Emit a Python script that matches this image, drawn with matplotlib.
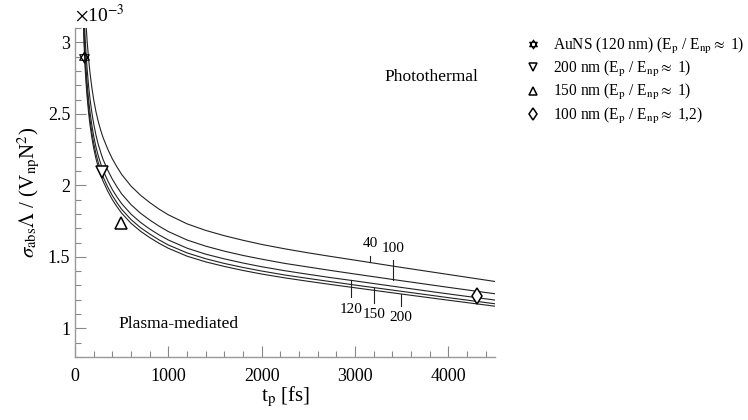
import matplotlib
matplotlib.use("Agg")
import matplotlib.pyplot as plt
from matplotlib.path import Path
import numpy as np

plt.rcParams['font.family'] = ['Liberation Serif', 'DejaVu Serif']
plt.rcParams['mathtext.fontset'] = 'stix'

# curves (values in units of 1e-3), labelled by particle size
tp = [90, 95, 100, 105, 110, 120, 130, 145, 160, 180, 200, 225, 250, 275, 300, 350, 400, 450, 500,
      600, 700, 800, 900, 1000, 1200, 1400, 1600, 1800, 2000, 2250, 2500, 2750, 3000, 3500, 4000, 4500]
c200 = [3.14, 3.03, 2.94, 2.865, 2.80, 2.70, 2.615, 2.51, 2.425, 2.335, 2.26, 2.185, 2.125, 2.075, 2.03,
        1.96, 1.90, 1.85, 1.805, 1.735, 1.68, 1.635, 1.595, 1.56, 1.505, 1.465, 1.433, 1.405, 1.38,
        1.353, 1.329, 1.306, 1.284, 1.240, 1.197, 1.155]
c150 = [3.187, 3.075, 2.984, 2.908, 2.842, 2.741, 2.654, 2.548, 2.461, 2.370, 2.294, 2.218, 2.157, 2.106,
        2.060, 1.989, 1.929, 1.878, 1.832, 1.761, 1.705, 1.660, 1.619, 1.583, 1.528, 1.487, 1.454, 1.426,
        1.401, 1.373, 1.349, 1.326, 1.303, 1.259, 1.215, 1.172]
c120 = [3.256, 3.142, 3.049, 2.971, 2.904, 2.800, 2.712, 2.603, 2.515, 2.421, 2.344, 2.266, 2.204, 2.152,
        2.105, 2.033, 1.970, 1.918, 1.872, 1.799, 1.742, 1.695, 1.654, 1.618, 1.561, 1.519, 1.486, 1.457,
        1.431, 1.403, 1.378, 1.354, 1.332, 1.286, 1.241, 1.198]
c100 = [3.376, 3.257, 3.161, 3.080, 3.010, 2.903, 2.811, 2.698, 2.607, 2.510, 2.430, 2.349, 2.284, 2.231,
        2.182, 2.107, 2.043, 1.989, 1.940, 1.865, 1.806, 1.758, 1.715, 1.677, 1.618, 1.575, 1.540, 1.510,
        1.484, 1.454, 1.429, 1.404, 1.380, 1.333, 1.287, 1.242]
c40 = [3.611, 3.485, 3.38, 3.295, 3.22, 3.105, 3.007, 2.887, 2.789, 2.685, 2.599, 2.513, 2.444, 2.386,
       2.335, 2.254, 2.185, 2.128, 2.076, 1.995, 1.932, 1.880, 1.834, 1.794, 1.731, 1.685, 1.648, 1.616,
       1.587, 1.556, 1.528, 1.502, 1.477, 1.426, 1.377, 1.328]

# measured points
star_t, star_v = [100], [2.9]
dn_t, dn_v = [290], [2.09]
up_t, up_v = [490], [1.74]
dia_t, dia_v = [4310], [1.227]

# star of David marker (two triangles)
hexa = Path([(0, 1), (-0.866, -0.5), (0.866, -0.5), (0, 1),
             (0, -1), (-0.866, 0.5), (0.866, 0.5), (0, -1)],
            [Path.MOVETO, Path.LINETO, Path.LINETO, Path.CLOSEPOLY,
             Path.MOVETO, Path.LINETO, Path.LINETO, Path.CLOSEPOLY])

fig = plt.figure(figsize=(7.48, 4.2), dpi=100)
ax = fig.add_axes([0.1003, 0.15, 0.5615, 0.7833])

lc = '#222222'
lw = 0.8
for c in [c40, c100, c120, c150, c200]:
    ax.plot(tp, c, color=lc, lw=lw)

mk = dict(linestyle='none', markerfacecolor='white', markeredgecolor='black', markeredgewidth=1.1)
h_star = ax.plot(star_t, star_v, marker=hexa, markersize=8, linestyle='none', markerfacecolor='none',
                 markeredgecolor='black', markeredgewidth=0.8)[0]
h_dn = ax.plot(dn_t, dn_v, marker='v', markersize=8, **mk)[0]
h_up = ax.plot(up_t, up_v, marker='^', markersize=8, **mk)[0]
h_dia = ax.plot(dia_t, dia_v, marker='d', markersize=8, **mk)[0]

# curve labels with small leader lines
def lab(txt, t, curve, ylab, above):
    yc = np.interp(t, tp, curve)
    if above:
        ax.plot([t, t], [yc, ylab - 0.04], color=lc, lw=0.8)
        ax.text(t, ylab, txt, ha='center', va='bottom', fontsize=11)
    else:
        ax.plot([t, t], [yc, ylab + 0.04], color=lc, lw=0.8)
        ax.text(t, ylab, txt, ha='center', va='top', fontsize=11)

lab('40', 3160, c40, 1.545, True)
lab('100', 3410, c100, 1.515, True)
lab('120', 2960, c120, 1.18, False)
lab('150', 3205, c150, 1.14, False)
lab('200', 3495, c200, 1.12, False)

ax.text(3815, 2.76, 'Photothermal', ha='center', va='center', fontsize=12.5)
ax.text(1104, 1.03, 'Plasma-mediated', ha='center', va='center', fontsize=12.5)

ax.set_xlim(0, 4500)
ax.set_ylim(0.8, 3.1)
ax.set_xticks([0, 1000, 2000, 3000, 4000])
ax.set_xticks(np.arange(0, 4501, 200), minor=True)
ax.set_yticks([1, 1.5, 2, 2.5, 3])
ax.set_yticklabels(['1', '1.5', '2', '2.5', '3'])
ax.set_yticks(np.arange(0.8, 3.11, 0.1), minor=True)
ax.tick_params(which='both', direction='in', color='#888888', labelsize=13)
ax.tick_params(which='major', length=8, width=0.8)
ax.tick_params(which='minor', length=4, width=0.8)
ax.tick_params(axis='x', pad=8)
for s in ['top', 'right']:
    ax.spines[s].set_visible(False)
for s in ['left', 'bottom']:
    ax.spines[s].set_color('#999999')
    ax.spines[s].set_linewidth(1.0)

ax.set_xlabel('t$_\\mathrm{p}$ [fs]', fontsize=15, labelpad=0)
ax.set_ylabel('$\\sigma_\\mathrm{abs}\\Lambda$ / (V$_\\mathrm{np}$N$^2$)', fontsize=15, labelpad=4)
fig.text(0.1003, 0.94, '$\\times$10$^{-3}$', fontsize=14, ha='left', va='bottom')

handles = [h_star, h_dn, h_up, h_dia]
labels = ['AuNS (120 nm) (E$_\\mathrm{p}$ / E$_\\mathrm{np}$$\\approx$ 1)',
          '200 nm (E$_\\mathrm{p}$ / E$_\\mathrm{np}$$\\approx$ 1)',
          '150 nm (E$_\\mathrm{p}$ / E$_\\mathrm{np}$$\\approx$ 1)',
          '100 nm (E$_\\mathrm{p}$ / E$_\\mathrm{np}$$\\approx$ 1,2)']
fig.legend(handles, labels, loc='upper left', bbox_to_anchor=(0.693, 0.93),
           frameon=False, fontsize=11.2, handlelength=1.1, handletextpad=0.75,
           labelspacing=0.22, borderaxespad=0, markerscale=0.8)

fig.savefig('out.png', dpi=100)
